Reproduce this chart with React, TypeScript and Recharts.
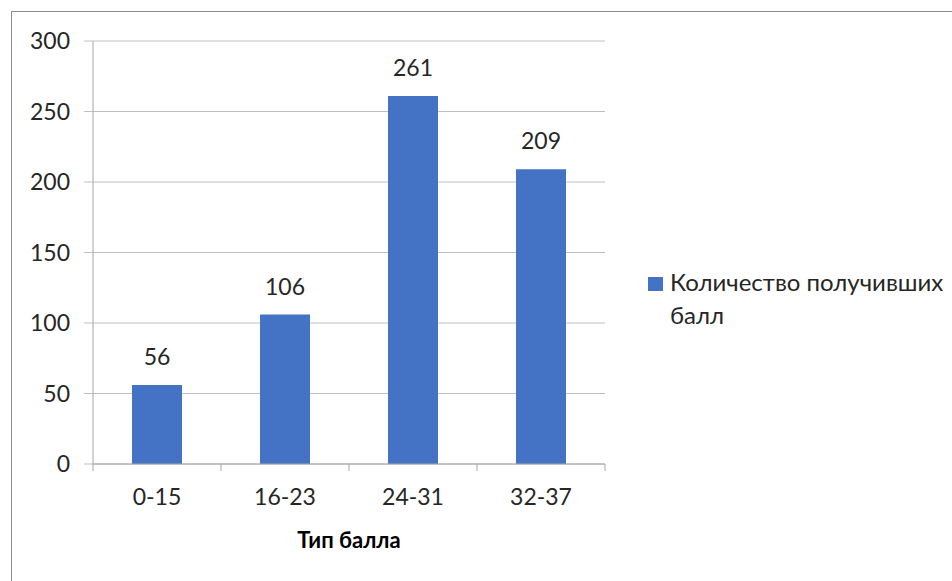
import { BarChart, Bar, XAxis, YAxis, CartesianGrid, LabelList } from "recharts";

const categories = ["0-15", "16-23", "24-31", "32-37"];
const counts = [56, 106, 261, 209];
const yTicks = [0, 50, 100, 150, 200, 250, 300];
const seriesName = "Количество получивших балл";
const axisTitle = "Тип балла";

const data = categories.map((c, i) => ({ label: c, count: counts[i] }));

const FONT = "Lato, 'Noto Sans', sans-serif";
const GRID = "#bfbfbf";
const AXIS = "#a6a6a6";
const BLUE = "#4472c4";

const XTick = (props: any) => {
  const { x, y, payload, index, visibleTicksCount, width } = props;
  const band = width / visibleTicksCount;
  const left = x - band / 2;
  return (
    <g>
      <line x1={left} x2={left} y1={464} y2={471} stroke={AXIS} />
      {index === visibleTicksCount - 1 && (
        <line x1={left + band} x2={left + band} y1={464} y2={471} stroke={AXIS} />
      )}
      <text x={x} y={y + 33} textAnchor="middle" fontSize={23} fontFamily={FONT} fill="#262626">
        {payload.value}
      </text>
    </g>
  );
};

export default function App() {
  return (
    <div style={{ position: "absolute", left: 0, top: 0, width: 952, height: 581, background: "#fff", overflow: "hidden" }}>
      <div
        style={{
          position: "absolute",
          left: 11,
          top: 11,
          width: 980,
          height: 620,
          border: "1.5px solid #8c8c8c",
        }}
      />
      <div style={{ position: "absolute", left: 0, top: 0 }}>
        <BarChart
          width={952}
          height={581}
          data={data}
          margin={{ top: 41, right: 347, bottom: 0, left: 0 }}
          barCategoryGap={39}
        >
          <CartesianGrid vertical={false} stroke={GRID} />
          <XAxis
            dataKey="label"
            height={117}
            axisLine={{ stroke: AXIS }}
            tickLine={false}
            tick={<XTick />}
            interval={0}
            label={{
              value: axisTitle,
              position: "insideBottom",
              offset: 33,
              fontSize: 22,
              fontWeight: 700,
              fontFamily: FONT,
              fill: "#000",
            }}
          />
          <YAxis
            width={93}
            domain={[0, 300]}
            ticks={yTicks}
            interval={0}
            axisLine={{ stroke: AXIS }}
            tickLine={{ stroke: GRID }}
            tickSize={9}
            tickMargin={14}
            tick={{ fontSize: 23, fontFamily: FONT, fill: "#262626" }}
          />
          <Bar dataKey="count" name={seriesName} fill={BLUE} isAnimationActive={false}>
            <LabelList
              dataKey="count"
              position="top"
              offset={20}
              fontSize={23}
              fontFamily={FONT}
              fill="#262626"
            />
          </Bar>
        </BarChart>
      </div>
      <div
        style={{
          position: "absolute",
          left: 648,
          top: 265,
          display: "flex",
          alignItems: "flex-start",
          fontFamily: FONT,
          fontSize: 24,
          lineHeight: "33px",
          color: "#262626",
        }}
      >
        <span
          style={{
            display: "inline-block",
            width: 15,
            height: 14,
            background: BLUE,
            marginTop: 12,
            marginRight: 7,
            flexShrink: 0,
          }}
        />
        <span style={{ width: 290 }}>{seriesName}</span>
      </div>
    </div>
  );
}
